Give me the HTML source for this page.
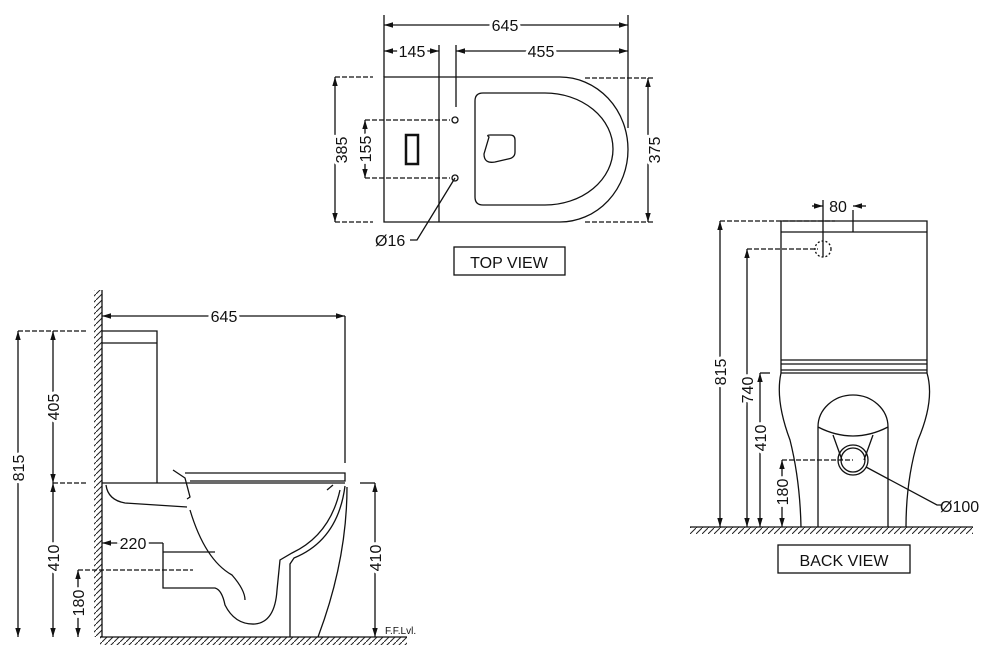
<!DOCTYPE html>
<html><head><meta charset="utf-8"><style>
html,body{margin:0;padding:0;background:#fff}
svg{display:block}
text{font-family:"Liberation Sans",sans-serif;fill:#111}
</style></head><body>
<svg width="1000" height="653" viewBox="0 0 1000 653" xmlns="http://www.w3.org/2000/svg">
<defs>
<marker id="a" viewBox="0 0 10 10" refX="10" refY="5" markerWidth="7" markerHeight="7" orient="auto-start-reverse"><path d="M0,2 L10,5 L0,8z" fill="#111"/></marker>
<pattern id="h" width="6" height="6" patternUnits="userSpaceOnUse"><path d="M0,6 L6,0" stroke="#222" stroke-width="1"/></pattern>
</defs>
<g fill="none" stroke="#111" stroke-width="1.3">
<!-- TOP VIEW -->
<path d="M384,15 V77 M628,15 V128 M456,45 V107 M439,45 V77"/>
<path d="M384,25 H628" marker-start="url(#a)" marker-end="url(#a)"/>
<path d="M384,51 H439" marker-start="url(#a)" marker-end="url(#a)"/>
<path d="M456,51 H628" marker-start="url(#a)" marker-end="url(#a)"/>
<path d="M384,77 H560 A68,72.5 0 0 1 560,222 H384 Z M439,77 V222"/>
<path d="M483,93 H545 A68,56 0 0 1 545,205 H483 Q475,205 475,197 V101 Q475,93 483,93 Z"/>
<path d="M489,137 Q486,135 490,135 H510 Q515,135 515,140 V152 Q515,158 508,159 L495,162 Q484,164 484,154 Z"/>
<rect x="406" y="135" width="12" height="29" stroke-width="2.5"/>
<circle cx="455" cy="120" r="3"/><circle cx="455" cy="178" r="3"/>
<path d="M335,77 V222" marker-start="url(#a)" marker-end="url(#a)"/>
<path d="M335,77 H373 M335,222 H373 M585,78 H653 M585,222 H653 M365,120 H450 M365,178 H450" stroke-dasharray="5,2"/>
<path d="M365,120 V178" marker-start="url(#a)" marker-end="url(#a)"/>
<path d="M648,78 V222" marker-start="url(#a)" marker-end="url(#a)"/>
<path d="M455,178 L417,240 H410"/>
<rect x="454" y="247" width="111" height="28"/>
<!-- SIDE VIEW -->
<rect x="94" y="290" width="8" height="347" fill="url(#h)" stroke="none"/>
<rect x="100" y="637" width="307" height="8" fill="url(#h)" stroke="none"/>
<path d="M102,290 V637 M100,637 H407"/>
<path d="M345,316 V463"/>
<path d="M102,316 H345" marker-start="url(#a)" marker-end="url(#a)"/>
<path d="M102,331 H157 V483 M102,343 H157"/>
<path d="M185,473 H345 V481 H190 M173,470 L185,478 L190,497 L187,499"/>
<path d="M102,483 H345"/>
<path d="M106,485 Q108,500 125,503 L187,507"/>
<path d="M190,510 Q205,560 232,575 Q245,590 245,600"/>
<path d="M163,552 H215 M163,552 V588 H215 Q222,590 225,605 Q235,625 255,624 Q275,622 277,590 L280,560 L292,553 Q330,535 340,490"/>
<path d="M333,485 L327,490"/>
<path d="M290,637 V564 L294,558 Q338,540 345,486"/>
<path d="M347,487 Q347,560 318,637"/>
<path d="M18,331 H87 M53,483 H87 M78,570 H193" stroke-dasharray="5,2"/>
<path d="M18,331 V637" marker-start="url(#a)" marker-end="url(#a)"/>
<path d="M53,331 V483" marker-start="url(#a)" marker-end="url(#a)"/>
<path d="M53,483 V637" marker-start="url(#a)" marker-end="url(#a)"/>
<path d="M78,570 V637" marker-start="url(#a)" marker-end="url(#a)"/>
<path d="M102,543 H163" marker-start="url(#a)"/>
<path d="M163,543 V552"/>
<path d="M360,483 H375"/>
<path d="M375,483 V637" marker-start="url(#a)" marker-end="url(#a)"/>
<!-- BACK VIEW -->
<rect x="690" y="527" width="283" height="7" fill="url(#h)" stroke="none"/>
<path d="M690,527 H973"/>
<path d="M781,373 V221 H927 V373 M781,232 H927 M781,360 H927 M781,364 H927 M781,370 H927 M781,373 H927"/>
<path d="M781,373 Q775,400 790,440 Q800,480 801,527 M927,373 Q935,400 918,440 Q906,480 906,527"/>
<path d="M818,527 V427 A35,32 0 0 1 888,427 V527 M818,427 Q853,445 888,427"/>
<path d="M833,435 L842,460 M873,435 L864,460"/>
<circle cx="853" cy="460" r="15"/><circle cx="853" cy="460" r="12"/>
<path d="M866,467 L937,505 H942"/>
<circle cx="823" cy="249" r="8" stroke-dasharray="2,2"/>
<path d="M823,200 V257 M853,210 V232"/>
<path d="M812,206 H823" marker-end="url(#a)"/><path d="M866,206 H853" marker-end="url(#a)"/>
<path d="M720,221 H835 M747,249 H818 M782,460 H853" stroke-dasharray="5,2"/>
<path d="M760,373 H770"/>
<path d="M720,221 V527" marker-start="url(#a)" marker-end="url(#a)"/>
<path d="M747,249 V527" marker-start="url(#a)" marker-end="url(#a)"/>
<path d="M760,373 V527" marker-start="url(#a)" marker-end="url(#a)"/>
<path d="M782,460 V527" marker-start="url(#a)" marker-end="url(#a)"/>
<rect x="778" y="545" width="132" height="28"/>
</g>
<g font-size="16">
<text x="505" y="31" text-anchor="middle" style="paint-order:stroke" stroke="#fff" stroke-width="6">645</text>
<text x="412" y="57" text-anchor="middle" style="paint-order:stroke" stroke="#fff" stroke-width="6">145</text>
<text x="541" y="57" text-anchor="middle" style="paint-order:stroke" stroke="#fff" stroke-width="6">455</text>
<text transform="translate(347,150) rotate(-90)" text-anchor="middle" style="paint-order:stroke" stroke="#fff" stroke-width="6">385</text>
<text transform="translate(371,149) rotate(-90)" text-anchor="middle" style="paint-order:stroke" stroke="#fff" stroke-width="6">155</text>
<text transform="translate(660,150) rotate(-90)" text-anchor="middle" style="paint-order:stroke" stroke="#fff" stroke-width="6">375</text>
<text x="375" y="246">Ø16</text>
<text x="509" y="268" text-anchor="middle">TOP VIEW</text>
<text x="224" y="322" text-anchor="middle" style="paint-order:stroke" stroke="#fff" stroke-width="6">645</text>
<text transform="translate(24,468) rotate(-90)" text-anchor="middle" style="paint-order:stroke" stroke="#fff" stroke-width="6">815</text>
<text transform="translate(59,407) rotate(-90)" text-anchor="middle" style="paint-order:stroke" stroke="#fff" stroke-width="6">405</text>
<text transform="translate(59,558) rotate(-90)" text-anchor="middle" style="paint-order:stroke" stroke="#fff" stroke-width="6">410</text>
<text transform="translate(84,603) rotate(-90)" text-anchor="middle" style="paint-order:stroke" stroke="#fff" stroke-width="6">180</text>
<text x="133" y="549" text-anchor="middle" style="paint-order:stroke" stroke="#fff" stroke-width="6">220</text>
<text transform="translate(381,558) rotate(-90)" text-anchor="middle" style="paint-order:stroke" stroke="#fff" stroke-width="6">410</text>
<text x="385" y="634" font-size="10">F.F.Lvl.</text>
<text x="838" y="212" text-anchor="middle">80</text>
<text transform="translate(726,372) rotate(-90)" text-anchor="middle" style="paint-order:stroke" stroke="#fff" stroke-width="6">815</text>
<text transform="translate(753,390) rotate(-90)" text-anchor="middle" style="paint-order:stroke" stroke="#fff" stroke-width="6">740</text>
<text transform="translate(766,438) rotate(-90)" text-anchor="middle" style="paint-order:stroke" stroke="#fff" stroke-width="6">410</text>
<text transform="translate(788,492) rotate(-90)" text-anchor="middle" style="paint-order:stroke" stroke="#fff" stroke-width="6">180</text>
<text x="940" y="512">Ø100</text>
<text x="844" y="566" text-anchor="middle">BACK VIEW</text>
</g>
</svg>
</body></html>
